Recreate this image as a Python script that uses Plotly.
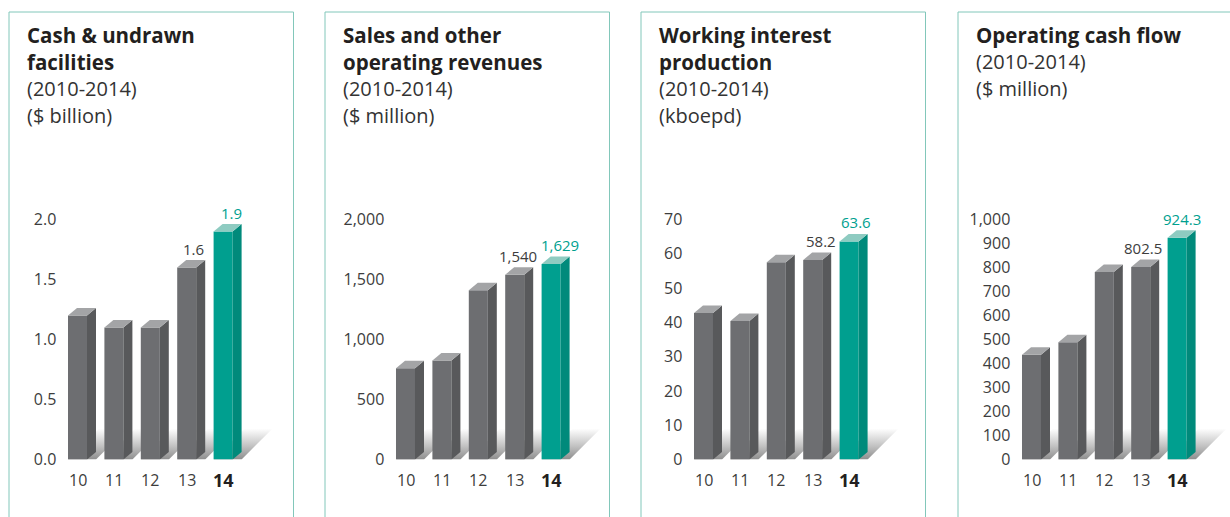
import plotly.graph_objects as go

# ---------------- data ----------------
YEARS = ["10", "11", "12", "13", "14"]

CASH_UNDRAWN = [1.2, 1.1, 1.1, 1.6, 1.9]          # $ billion
SALES_REVENUES = [760, 825, 1410, 1540, 1629]      # $ million
PRODUCTION = [42.7, 40.4, 57.5, 58.2, 63.6]        # kboepd
OPERATING_CASH_FLOW = [436, 489, 781, 802.5, 924.3]  # $ million

CASH_TICKS = [0, 0.5, 1.0, 1.5, 2.0]
SALES_TICKS = [0, 500, 1000, 1500, 2000]
PRODUCTION_TICKS = [0, 10, 20, 30, 40, 50, 60, 70]
CASH_FLOW_TICKS = [0, 100, 200, 300, 400, 500, 600, 700, 800, 900, 1000]

TITLES = [
    ["Cash & undrawn", "facilities"],
    ["Sales and other", "operating revenues"],
    ["Working interest", "production"],
    ["Operating cash flow"],
]
SUBTITLES = [
    ["(2010-2014)", "($ billion)"],
    ["(2010-2014)", "($ million)"],
    ["(2010-2014)", "(kboepd)"],
    ["(2010-2014)", "($ million)"],
]

# ---------------- styling / layout ----------------
W, H = 1230, 517
FONT = "Open Sans"
TITLE_C = "#231f20"
TEXT_C = "#3d3d3d"
TEAL = "#009f8f"
BORDER_C = "#82c7ba"

GRAY_FRONT, GRAY_SIDE, GRAY_TOP = "#6d6e71", "#58595b", "#a3a4a6"
TEAL_FRONT, TEAL_SIDE, TEAL_TOP = "#009f8f", "#008a7b", "#8ecbc1"

PITCH = 36.4            # px per category
BAR_W = 19.0 / PITCH    # front face width in category units
DEPTH_X = 9.0 / PITCH   # 3D depth in category units
DEPTH_Y_PX = 7.5
SHADOW_X = 31.0 / PITCH
SHADOW_Y_PX = 31.0
ZERO_PX, TOP_PX = 459.5, 219.5
X_RANGE = [-0.5, 5.4]

panels = [
    dict(values=CASH_UNDRAWN, ticks=CASH_TICKS, tickformat=".1f", lab="{:.1f}",
         center0=77.5, border=9, label_dx=[7, 8]),
    dict(values=SALES_REVENUES, ticks=SALES_TICKS, tickformat=",", lab="{:,.0f}",
         center0=405.5, border=325, label_dx=[3, 9]),
    dict(values=PRODUCTION, ticks=PRODUCTION_TICKS, tickformat="d", lab="{:.1f}",
         center0=703.5, border=641, label_dx=[8, 7]),
    dict(values=OPERATING_CASH_FLOW, ticks=CASH_FLOW_TICKS, tickformat=",", lab="{:.1f}",
         center0=1031.5, border=958, label_dx=[2, 5]),
]

fig = go.Figure()
annotations = []
shapes = []
layout_axes = {}

def poly(points):
    xs = [p[0] for p in points] + [points[0][0]]
    ys = [p[1] for p in points] + [points[0][1]]
    return xs, ys

for k, p in enumerate(panels):
    base = k + 1
    over = k + 5
    vals = p["values"]
    ymax = p["ticks"][-1]
    units_per_px = ymax / (ZERO_PX - TOP_PX)
    dy = DEPTH_Y_PX * units_per_px
    sy = SHADOW_Y_PX * units_per_px
    n = len(vals)
    idx = list(range(n))

    # axes
    left_px = p["center0"] - (0 - X_RANGE[0]) * PITCH
    right_px = left_px + (X_RANGE[1] - X_RANGE[0]) * PITCH
    dom_x = [left_px / W, min(right_px / W, 1.0)]
    dom_y = [1 - ZERO_PX / H, 1 - TOP_PX / H]
    xa = "xaxis" if base == 1 else f"xaxis{base}"
    ya = "yaxis" if base == 1 else f"yaxis{base}"
    layout_axes[xa] = dict(domain=dom_x, range=X_RANGE, visible=False, fixedrange=True,
                           anchor=f"y{base}" if base > 1 else "y", automargin=False)
    layout_axes[ya] = dict(domain=dom_y, range=[0, ymax], anchor=f"x{base}" if base > 1 else "x",
                           tickvals=p["ticks"], tickformat=p["tickformat"], showgrid=False,
                           zeroline=False, showline=False, ticks="", ticklabelstandoff=2,
                           automargin=False,
                           tickfont=dict(family=FONT, size=16, color=TEXT_C), fixedrange=True)
    layout_axes[f"xaxis{over}"] = dict(overlaying="x" if base == 1 else f"x{base}", range=X_RANGE,
                                       visible=False, anchor=f"y{over}", fixedrange=True,
                                       automargin=False)
    layout_axes[f"yaxis{over}"] = dict(overlaying="y" if base == 1 else f"y{base}", range=[0, ymax],
                                       visible=False, anchor=f"x{over}", fixedrange=True,
                                       automargin=False)
    bx = "x" if base == 1 else f"x{base}"
    by = "y" if base == 1 else f"y{base}"
    ox, oy = f"x{over}", f"y{over}"

    # floor shadows (base subplot -> drawn beneath the bars)
    for i, v in enumerate(vals):
        xl = i - BAR_W / 2
        xr = i + BAR_W / 2 + DEPTH_X
        xs, ys = poly([(xl, 0), (xr, 0), (xr + SHADOW_X, sy), (xl + SHADOW_X, sy)])
        fig.add_trace(go.Scatter(
            x=xs, y=ys, mode="lines", line=dict(width=0), fill="toself",
            fillgradient=dict(type="vertical", start=0, stop=sy,
                              colorscale=[[0, "#8e8e8e"], [0.45, "#c4c4c4"], [1, "#ffffff"]]),
            xaxis=bx, yaxis=by, hoverinfo="skip", showlegend=False))

    # front faces
    colors = [GRAY_FRONT] * (n - 1) + [TEAL_FRONT]
    fig.add_trace(go.Bar(x=idx, y=vals, width=BAR_W, marker=dict(color=colors, line=dict(width=0)),
                         xaxis=ox, yaxis=oy, hoverinfo="skip", showlegend=False))

    # side and top faces
    for i, v in enumerate(vals):
        last = i == n - 1
        xl = i - BAR_W / 2
        xr = i + BAR_W / 2
        sxs, sys_ = poly([(xr, 0), (xr + DEPTH_X, dy), (xr + DEPTH_X, v + dy), (xr, v)])
        fig.add_trace(go.Scatter(x=sxs, y=sys_, mode="lines", line=dict(width=0), fill="toself",
                                 fillcolor=TEAL_SIDE if last else GRAY_SIDE,
                                 xaxis=ox, yaxis=oy, hoverinfo="skip", showlegend=False))
        txs, tys = poly([(xl, v), (xr, v), (xr + DEPTH_X, v + dy), (xl + DEPTH_X, v + dy)])
        fig.add_trace(go.Scatter(x=txs, y=tys, mode="lines", line=dict(width=0), fill="toself",
                                 fillcolor=TEAL_TOP if last else GRAY_TOP,
                                 xaxis=ox, yaxis=oy, hoverinfo="skip", showlegend=False))

    # x category labels
    for i, yr in enumerate(YEARS):
        last = i == n - 1
        annotations.append(dict(
            x=i, y=0, xref=ox, yref=oy, text=f"<b>{yr}</b>" if last else yr, showarrow=False,
            xanchor="center", yanchor="middle", yshift=-20.5,
            font=dict(family=FONT, size=18 if last else 16, color=TITLE_C if last else TEXT_C)))

    # value labels for the last two years
    for j, i in enumerate([n - 2, n - 1]):
        annotations.append(dict(
            x=i, y=vals[i], xref=ox, yref=oy, text=p["lab"].format(vals[i]), showarrow=False,
            xanchor="center", yanchor="middle", yshift=19, xshift=p["label_dx"][j],
            font=dict(family=FONT, size=15, color=TEAL if i == n - 1 else TEXT_C)))

    # titles
    tx = (p["border"] + 16) / W
    lines = [(t, True) for t in TITLES[k]] + [(t, False) for t in SUBTITLES[k]]
    for li, (t, bold) in enumerate(lines):
        ypx = 35 + li * 26.7
        annotations.append(dict(
            x=tx, y=1 - ypx / H, xref="paper", yref="paper", text=f"<b>{t}</b>" if bold else t,
            showarrow=False, xanchor="left", yanchor="middle",
            font=dict(family=FONT, size=20.5 if bold else 20, color=TITLE_C if bold else "#333333")))

    # panel border
    bl = p["border"]
    br = bl + 284.5
    shapes.append(dict(type="path", xref="paper", yref="paper",
                       path=f"M {bl/W},{-0.05} L {bl/W},{1-12/H} L {br/W},{1-12/H} L {br/W},{-0.05}",
                       line=dict(color=BORDER_C, width=1)))

fig.update_layout(
    width=W, height=H, margin=dict(l=0, r=0, t=0, b=0, pad=0, autoexpand=False),
    autosize=False,
    paper_bgcolor="white", plot_bgcolor="rgba(0,0,0,0)",
    showlegend=False, barmode="overlay",
    annotations=annotations, shapes=shapes,
    **layout_axes,
)

fig.write_html("out.html")
